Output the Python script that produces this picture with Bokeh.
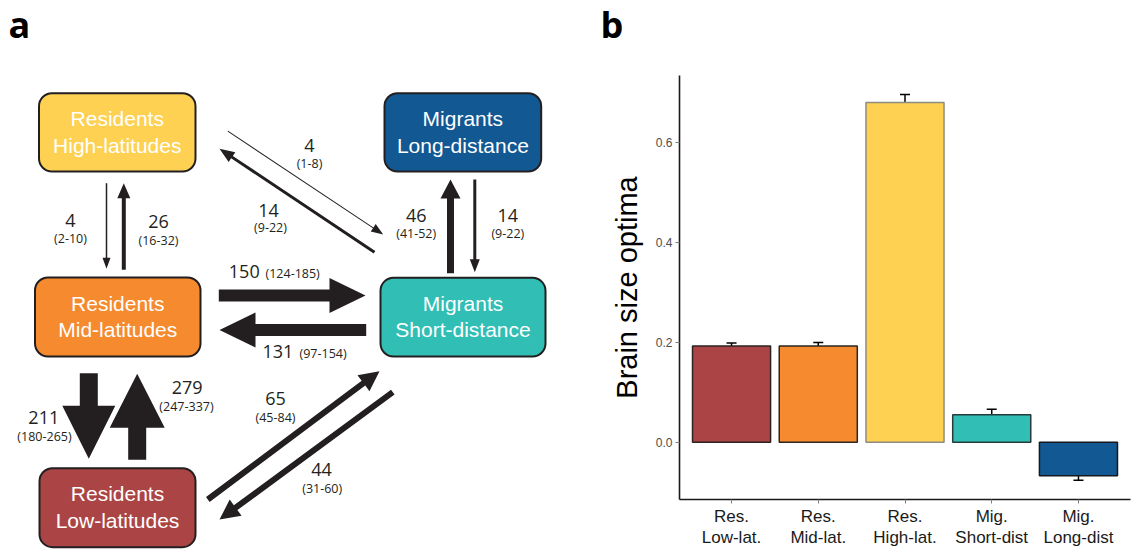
import math

from bokeh.core.properties import value
from bokeh.embed import file_html
from bokeh.layouts import column, row
from bokeh.models import ColumnDataSource, FixedTicker, Range1d, TeeHead, Whisker
from bokeh.plotting import figure
from bokeh.resources import INLINE

# ---------------- data ----------------
# panel a: transition rates between migratory / latitudinal states
node_top = ["Residents", "Migrants", "Residents", "Migrants", "Residents"]
node_bottom = ["High-latitudes", "Long-distance", "Mid-latitudes", "Short-distance", "Low-latitudes"]
rates = [4, 26, 150, 131, 211, 279, 4, 14, 46, 14, 65, 44]
rate_low = [2, 16, 124, 97, 180, 247, 1, 9, 41, 9, 45, 31]
rate_high = [10, 32, 185, 154, 265, 337, 8, 22, 52, 22, 84, 60]

# panel b: brain size optima per state
groups = ["Res.\nLow-lat.", "Res.\nMid-lat.", "Res.\nHigh-lat.", "Mig.\nShort-dist", "Mig.\nLong-dist"]
optima = [0.193, 0.193, 0.681, 0.055, -0.067]
optima_lo = [0.186, 0.185, 0.665, 0.045, -0.076]
optima_hi = [0.199, 0.200, 0.697, 0.066, -0.060]
y_ticks = [0.0, 0.2, 0.4, 0.6]

# ---------------- styles ----------------
INK = "#231F20"
node_fill = ["#FED152", "#125892", "#F58A2F", "#31BEB4", "#AB4545"]
bar_fill = ["#AB4545", "#F58A2F", "#FED152", "#31BEB4", "#125892"]
bar_line = ["#2b2222", "#2b2622", "#8c8c80", "#263c3a", "#15181f"]

# box geometry (left, right, top, bottom) in page pixels
node_box = [
    (38.5, 195.0, 92.7, 171.0),
    (384.0, 540.7, 92.7, 171.0),
    (34.5, 200.0, 277.0, 356.0),
    (380.0, 545.0, 277.3, 356.0),
    (39.0, 195.0, 467.7, 546.7),
]

# arrows: start, end, shaft width, head width, head length
arrow_geom = [
    ((106.0, 182.7), (106.0, 268.3), 1.5, 8, 11),
    ((123.3, 269.3), (123.3, 182.7), 4.0, 13, 15),
    ((218.3, 295.0), (365.0, 295.0), 12.0, 35, 36),
    ((365.7, 329.5), (219.0, 329.5), 12.0, 35, 36),
    ((88.3, 372.7), (88.3, 458.3), 18.0, 53, 53),
    ((136.7, 459.3), (136.7, 373.3), 18.0, 55, 54),
    ((227.3, 130.7), (382.7, 234.0), 1.0, 9, 12),
    ((374.0, 251.7), (219.0, 148.3), 3.0, 12, 15),
    ((450.0, 272.7), (450.0, 179.0), 7.0, 20, 19),
    ((474.3, 179.0), (474.3, 271.7), 3.0, 10, 13),
    ((207.3, 499.0), (379.0, 370.7), 6.0, 20, 20),
    ((392.3, 391.7), (219.0, 519.0), 6.0, 20, 20),
]

# label anchors: x, y of the rate; x, y of its interval; stacked or side by side
label_pos = [
    (70.0, 220.0, 70.0, 238.3, True),
    (158.0, 221.7, 158.0, 240.0, True),
    (228.3, 271.7, 265.0, 271.7, False),
    (262.0, 351.7, 299.0, 351.7, False),
    (43.3, 417.3, 44.0, 436.0, True),
    (186.7, 387.3, 186.0, 406.7, True),
    (309.0, 145.0, 309.0, 163.3, True),
    (268.0, 210.0, 270.0, 227.3, True),
    (415.7, 215.0, 415.7, 233.3, True),
    (507.3, 215.0, 507.3, 233.3, True),
    (275.0, 398.0, 275.0, 417.0, True),
    (321.0, 469.0, 321.7, 488.0, True),
]


def arrow_polygon(start, end, shaft, head_w, head_len):
    (x0, y0), (x1, y1) = start, end
    length = math.hypot(x1 - x0, y1 - y0)
    ux, uy = (x1 - x0) / length, (y1 - y0) / length
    nx, ny = -uy, ux
    bx, by = x1 - ux * head_len, y1 - uy * head_len
    s, h = shaft / 2, head_w / 2
    xs = [x0 + nx * s, bx + nx * s, bx + nx * h, x1, bx - nx * h, bx - nx * s, x0 - nx * s]
    ys = [y0 + ny * s, by + ny * s, by + ny * h, y1, by - ny * h, by - ny * s, y0 - ny * s]
    return xs, ys


def blank_figure(width, height, x0, y0):
    """Axis-free canvas whose data units are page pixels (y grows downwards)."""
    fig = figure(width=width, height=height, x_range=Range1d(x0, x0 + width),
                 y_range=Range1d(y0 + height, y0), x_axis_location=None, y_axis_location=None,
                 output_backend="svg", toolbar_location=None, min_border=0, title=None)
    fig.grid.visible = False
    fig.outline_line_color = None
    return fig


letter_font = dict(text_font=value("Open Sans"), text_font_size="36px", text_font_style="bold",
                   text_color="black", text_baseline="alphabetic")

# ---------------- panel a: transition diagram ----------------
pa = blank_figure(600, 550, 0, 0)

pa.quad(left=[b[0] for b in node_box], right=[b[1] for b in node_box],
        top=[b[2] for b in node_box], bottom=[b[3] for b in node_box],
        fill_color=node_fill, line_color=INK, line_width=2, border_radius=13)

cx = [(b[0] + b[1]) / 2 for b in node_box]
cy = [(b[2] + b[3]) / 2 for b in node_box]
box_font = dict(text_font=value("Liberation Sans"), text_font_size="21px", text_color="white",
                text_align="center", text_baseline="alphabetic")
pa.text(x=cx, y=[c - 13.8 for c in cy], text=node_top, **box_font)
pa.text(x=cx, y=[c + 12.8 for c in cy], text=node_bottom, **box_font)

polys = [arrow_polygon(*g) for g in arrow_geom]
pa.patches(xs=[p[0] for p in polys], ys=[p[1] for p in polys], fill_color=INK, line_color=None)

num_font = dict(text_font=value("Open Sans"), text_font_size="18px", text_color=INK,
                text_baseline="alphabetic")
ci_font = dict(text_font=value("Open Sans"), text_font_size="12.5px", text_color=INK,
               text_baseline="alphabetic")
for lp, r, lo, hi in zip(label_pos, rates, rate_low, rate_high):
    nx_, ny_, ix, iy, stacked = lp
    align = "center" if stacked else "left"
    pa.text(x=[nx_], y=[ny_ - 0.5], text=[str(r)], text_align=align, **num_font)
    iy_text = iy - 0.3 if stacked else ny_ + 1.6
    pa.text(x=[ix], y=[iy_text], text=[f"({lo}-{hi})"], text_align=align, **ci_font)

pa.text(x=[8], y=[23.5], text=["a"], **letter_font)

# ---------------- panel b: letter strip ----------------
pb_head = blank_figure(532, 75, 600, 0)
pb_head.text(x=[600], y=[23.5], text=["b"], **letter_font)

# ---------------- panel b: brain size optima ----------------
pb = figure(width=532, height=475, x_range=Range1d(0.4, 5.6), y_range=Range1d(-0.1146, 0.735),
            output_backend="svg", toolbar_location=None, title=None,
            min_border_left=79, min_border_right=2, min_border_top=0, min_border_bottom=50)
pb.grid.visible = False
pb.outline_line_color = None

xs = list(range(1, len(groups) + 1))
pb.vbar(x=xs, top=optima, bottom=0, width=0.9, fill_color=bar_fill,
        line_color=bar_line, line_width=1.5)

err = ColumnDataSource(dict(x=xs, lower=optima_lo, upper=optima_hi))
pb.add_layout(Whisker(source=err, base="x", lower="lower", upper="upper",
                      line_color="black", line_width=1.5,
                      upper_head=TeeHead(size=10, line_color="black", line_width=1.5),
                      lower_head=TeeHead(size=10, line_color="black", line_width=1.5)))

for ax in (pb.xaxis[0], pb.yaxis[0]):
    ax.axis_line_color = "#1a1a1a"
    ax.axis_line_width = 1.6
    ax.major_tick_in = 0
    ax.major_tick_out = 4
    ax.major_tick_line_color = "#808080"
    ax.minor_tick_line_color = None
    ax.major_label_text_font = "Liberation Sans"

pb.xaxis.ticker = FixedTicker(ticks=xs)
pb.xaxis.major_label_overrides = {x: g for x, g in zip(xs, groups)}
pb.xaxis.major_label_text_font_size = "17px"
pb.xaxis.major_label_text_color = "#1a1a1a"
pb.xaxis.major_label_text_line_height = 1.15
pb.xaxis.major_label_standoff = 3

pb.yaxis.ticker = FixedTicker(ticks=y_ticks)
pb.yaxis.major_label_overrides = {t: f"{t:.1f}" for t in y_ticks}
pb.yaxis.major_label_text_font_size = "12px"
pb.yaxis.major_label_text_color = "#4d4d4d"
pb.yaxis.major_label_standoff = 3
pb.yaxis.axis_label = "Brain size optima"
pb.yaxis.axis_label_text_font = "Liberation Sans"
pb.yaxis.axis_label_text_font_size = "29px"
pb.yaxis.axis_label_text_font_style = "normal"
pb.yaxis.axis_label_text_color = "black"
pb.yaxis.axis_label_standoff = 10

# keep each panel's plotting area independent of the others' borders
for fig in (pa, pb_head, pb):
    if "frame_align" in fig.properties():
        fig.frame_align = False

page = row(column(pa), column(pb_head, pb))
open("out.html", "w").write(file_html(page, INLINE))
